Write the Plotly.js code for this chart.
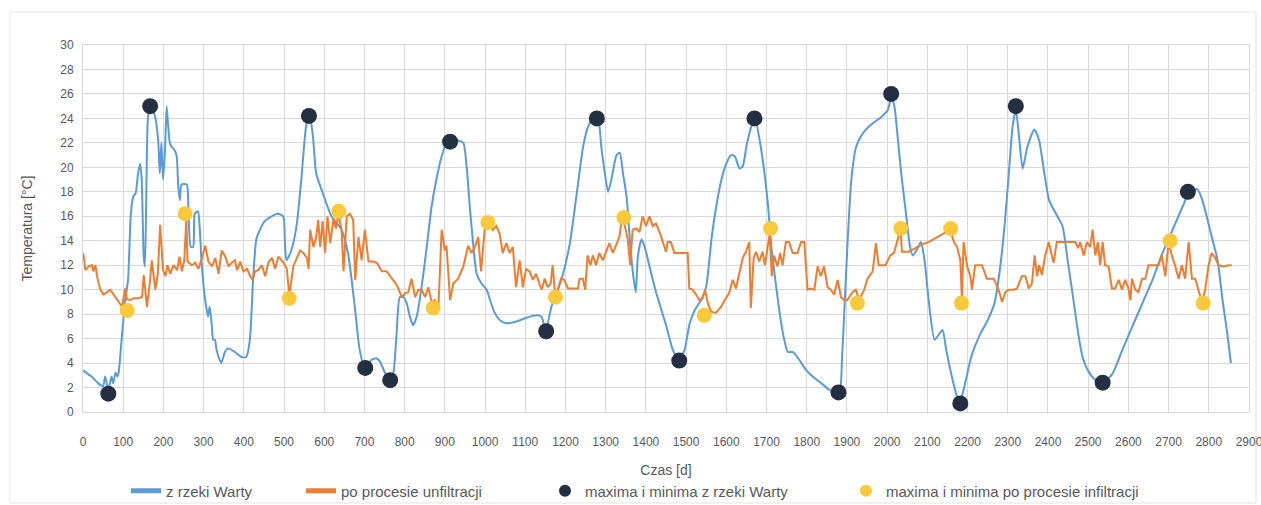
<!DOCTYPE html>
<html>
<head>
<meta charset="utf-8">
<script src="https://cdn.plot.ly/plotly-3.0.1.min.js"></script>
<style>
html,body{margin:0;padding:0;background:#ffffff;}
#chart{width:1261px;height:505px;}
</style>
</head>
<body>
<div id="chart"></div>
<script>
// ---- Data: temperatura wody z rzeki Warty ----
const riverDays = [0,21,38,50,55,63,71,75,81,86,89,96,104,112,119,125,131,137,142,146,151,154,158,162,169,179,187,191,195,199,204,208,212,216,220,228,233,237,241,245,258,262,268,274,278,286,290,295,303,311,315,320,324,328,332,340,344,353,361,378,394,406,415,423,431,440,452,469,485,498,502,506,518,531,543,556,564,572,580,593,618,643,659,676,688,701,717,730,739,751,764,772,780,788,797,805,813,821,830,842,855,867,879,892,904,917,933,946,954,962,971,979,991,1004,1012,1024,1037,1053,1078,1103,1128,1140,1151,1165,1178,1194,1211,1227,1244,1256,1269,1281,1289,1298,1306,1314,1327,1335,1343,1352,1360,1368,1375,1380,1389,1397,1409,1426,1451,1467,1482,1496,1509,1521,1538,1550,1563,1575,1588,1600,1612,1621,1633,1641,1650,1662,1672,1683,1695,1704,1712,1720,1728,1741,1753,1766,1782,1799,1815,1836,1857,1873,1882,1888,1894,1902,1911,1923,1940,1964,1985,2002,2010,2018,2027,2035,2047,2057,2064,2076,2084,2093,2105,2118,2130,2138,2147,2167,2180,2192,2209,2229,2250,2267,2279,2292,2304,2312,2320,2329,2337,2349,2366,2378,2391,2403,2420,2436,2449,2461,2474,2486,2503,2519,2537,2561,2585,2610,2635,2660,2685,2710,2735,2751,2772,2784,2797,2809,2822,2834,2846,2855];
const riverTemp = [3.4,2.9,2.35,2.1,2.9,1.8,2.9,2.35,3.2,2.9,3.3,5.9,8.9,10.8,16.2,17.6,17.9,19.5,20.3,19.0,12.7,11.9,19.0,24.2,25.0,24.2,22.2,19.5,22.0,19.0,21.4,25.0,23.3,22.0,21.7,21.4,20.9,18.4,17.3,18.6,18.6,16.8,13.5,13.5,16.2,16.4,15.2,12.2,9.4,7.8,8.6,7.25,5.9,5.9,5.1,4.25,4.0,4.9,5.2,4.9,4.5,4.5,5.9,10.8,14.1,14.9,15.6,16.0,16.2,16.0,14.1,12.4,13.2,15.2,19.0,23.6,24.2,22.5,19.5,18.2,16.0,14.9,13.0,8.6,5.1,3.6,4.25,4.4,4.1,3.2,2.6,3.2,6.4,9.4,9.4,8.9,7.8,7.1,7.8,10.2,13.5,16.8,19.0,20.9,22.0,22.2,22.2,22.0,20.1,16.8,13.5,11.3,10.5,10.0,9.2,8.1,7.5,7.25,7.4,7.7,7.9,7.8,6.7,8.6,9.7,11.3,13.8,17.6,21.7,23.3,24.0,23.9,21.7,19.5,18.0,19.0,21.0,21.2,19.5,17.6,14.1,11.3,9.8,12.7,14.1,13.5,11.9,9.7,7.0,5.07,4.25,5.07,7.25,8.3,9.2,10.25,14.1,16.8,19.0,20.3,21.0,20.9,19.9,20.1,21.7,23.3,23.9,22.2,19.5,16.8,13.5,11.3,9.2,6.4,4.9,4.9,4.25,3.4,2.9,2.35,1.8,1.5,1.66,4.5,8.6,14.1,19.0,21.7,22.8,23.6,24.1,24.7,25.8,25.0,22.2,19.5,16.2,13.5,12.8,13.4,13.9,12.4,8.6,5.9,6.4,6.7,5.07,2.07,0.7,2.07,4.5,6.2,7.5,8.9,11.3,15.2,20.1,23.3,24.7,22.2,19.9,21.7,23.1,22.2,19.5,17.3,16.2,15.2,12.4,9.7,6.7,4.5,3.2,2.6,2.35,3.16,5.07,7.0,8.9,10.8,13.0,14.9,16.8,17.9,18.2,17.3,15.7,14.1,12.4,9.2,6.4,4.0];

// ---- Data: po procesie infiltracji ----
const infilDays = [0,2,6,14,22,26,31,35,43,51,60,68,76,84,93,97,105,109,118,126,138,147,151,159,167,171,180,186,192,199,205,210,217,225,234,240,246,252,257,260,271,279,287,296,304,312,321,329,337,345,354,362,370,378,383,391,399,408,416,422,428,436,445,453,461,470,478,486,499,507,513,523,532,540,548,557,561,565,573,580,585,590,596,602,608,615,623,629,635,643,648,656,664,672,677,685,693,701,710,722,731,743,755,768,780,793,801,809,817,826,834,842,851,859,867,875,884,892,900,904,913,921,933,946,958,966,975,983,990,999,1011,1019,1028,1036,1044,1053,1061,1069,1077,1086,1094,1102,1111,1119,1127,1135,1141,1148,1156,1163,1168,1174,1181,1189,1197,1206,1218,1231,1235,1243,1249,1255,1262,1268,1276,1284,1293,1301,1309,1318,1326,1334,1340,1347,1355,1361,1367,1376,1384,1392,1400,1409,1417,1425,1434,1442,1450,1454,1462,1471,1504,1508,1516,1525,1533,1541,1547,1554,1562,1574,1587,1599,1607,1616,1624,1632,1641,1649,1657,1661,1668,1674,1682,1690,1696,1703,1708,1713,1719,1727,1734,1740,1748,1756,1765,1777,1786,1794,1802,1810,1819,1827,1835,1843,1852,1860,1868,1877,1885,1893,1901,1914,1922,1930,1943,1951,1964,1972,1979,1996,2008,2017,2025,2033,2037,2054,2070,2087,2104,2120,2137,2157,2166,2174,2182,2186,2190,2199,2207,2211,2219,2236,2248,2265,2277,2286,2294,2302,2315,2323,2335,2344,2352,2360,2367,2373,2378,2385,2393,2402,2408,2414,2422,2435,2447,2460,2468,2475,2480,2489,2497,2505,2511,2518,2524,2530,2536,2542,2551,2559,2567,2576,2584,2592,2600,2605,2609,2617,2625,2634,2642,2650,2663,2675,2683,2692,2700,2708,2716,2725,2733,2741,2750,2758,2766,2774,2783,2791,2799,2807,2816,2824,2836,2849,2857];
const infilTemp = [13.0,12.7,11.6,11.9,12.0,11.5,12.0,11.1,10.0,9.6,9.8,10.0,9.6,9.2,8.7,8.6,10.1,9.2,9.15,9.3,9.3,9.4,11.2,8.6,10.8,12.4,10.0,11.3,15.3,11.6,11.1,12.0,11.3,12.0,11.6,12.7,11.5,12.4,15.8,12.3,12.0,12.2,11.7,12.6,13.6,12.3,11.9,12.6,11.3,13.2,12.7,11.9,12.2,12.4,11.6,12.3,11.5,11.7,11.1,10.8,11.5,11.6,12.0,11.1,12.2,12.6,11.7,12.7,12.2,11.7,9.5,11.9,12.6,13.2,13.0,12.6,11.7,14.9,13.5,14.3,15.7,13.5,15.6,13.0,16.0,13.8,15.8,15.0,16.2,14.9,11.5,16.0,16.2,15.7,10.8,14.3,12.4,14.9,12.3,12.3,12.2,11.5,11.5,10.9,10.4,9.4,9.7,9.8,10.9,9.4,10.0,10.0,9.4,10.2,9.0,9.15,8.6,14.9,13.2,13.6,9.15,10.5,10.9,11.9,13.6,13.0,13.5,14.3,11.5,14.9,15.4,14.9,15.2,14.6,13.0,13.8,13.0,13.5,10.2,12.4,10.2,11.7,11.5,10.8,11.3,10.5,10.0,10.9,10.2,10.5,12.0,9.7,10.0,10.9,10.8,10.1,10.1,10.1,10.9,10.9,10.0,12.8,12.0,12.8,12.0,13.0,12.4,13.1,13.8,13.0,13.6,14.3,15.7,15.3,14.1,12.0,14.9,15.0,14.7,16.0,15.2,16.0,15.2,15.4,14.7,13.8,13.1,13.9,13.9,13.0,13.0,10.1,10.0,9.6,9.15,9.3,10.0,8.9,8.2,8.1,8.6,9.3,9.7,10.8,10.1,11.3,12.6,13.1,13.9,8.5,12.6,13.1,12.3,13.1,12.0,13.5,14.6,11.1,12.8,11.9,13.0,12.0,13.9,13.9,13.0,13.0,13.9,13.9,10.0,10.1,10.0,11.9,11.1,11.9,10.2,10.0,9.6,10.8,9.4,9.15,9.15,9.8,10.0,9.15,10.0,10.9,11.5,13.8,12.0,12.0,12.8,13.0,13.9,14.9,13.1,13.1,13.4,13.7,13.9,14.2,14.5,14.9,13.9,13.5,12.4,9.15,13.9,11.9,11.1,10.0,12.0,12.0,10.9,10.9,10.0,9.0,9.8,10.0,10.0,10.1,11.1,11.1,10.1,10.5,12.8,11.1,12.0,11.2,12.8,13.9,13.0,12.2,13.9,13.9,13.9,13.9,13.9,13.4,13.9,12.8,13.9,13.5,14.9,12.8,13.9,12.0,13.9,12.0,11.9,10.1,10.1,10.8,10.0,10.8,10.1,9.15,10.9,10.0,9.8,10.9,10.9,12.0,12.0,12.0,12.8,11.1,13.9,12.8,12.0,10.9,12.0,10.9,13.9,10.9,10.9,10.0,9.0,10.0,11.9,13.0,12.6,12.0,11.9,12.0,12.0];

// ---- Data: maxima i minima ----
const riverExtDays = [63,167,562,702,764,913,1152,1278,1483,1670,1879,2010,2182,2320,2536,2748];
const riverExtTemp = [1.5,25.0,24.2,3.6,2.6,22.1,6.6,24.0,4.2,24.0,1.6,26.0,0.7,25.0,2.4,18.0];
const infilExtDays = [110,254,513,636,871,1007,1175,1345,1545,1710,1926,2034,2158,2185,2704,2786];
const infilExtTemp = [8.3,16.2,9.3,16.4,8.5,15.5,9.4,15.9,7.9,15.0,8.9,15.0,15.0,8.9,14.0,8.9];

// ---- Labels ----
const seriesNames = ['z rzeki Warty','po procesie unfiltracji','maxima i minima z rzeki Warty','maxima i minima po procesie infiltracji'];
const xTitle = 'Czas [d]';
const yTitle = 'Temperatura [°C]';

const FONT = 'Liberation Sans, Arial, sans-serif';
const TXT = '#595959';
const GRID = '#D9D9D9';

const traces = [
  {x: riverDays, y: riverTemp, type:'scatter', mode:'lines', name: seriesNames[0],
   line:{color:'#5B9BD5', width:2, shape:'spline', smoothing:0.6}, legend:'legend'},
  {x: infilDays, y: infilTemp, type:'scatter', mode:'lines', name: seriesNames[1],
   line:{color:'#ED7D31', width:2}, legend:'legend2'},
  {x: riverExtDays, y: riverExtTemp, type:'scatter', mode:'markers', name: seriesNames[2],
   marker:{color:'#243042', size:16}, legend:'legend3'},
  {x: infilExtDays, y: infilExtTemp, type:'scatter', mode:'markers', name: seriesNames[3],
   marker:{color:'#F9C93C', size:15}, legend:'legend4'}
];

function legendAt(px){
  return {x:(px-83)/1166, y:(412-491)/367, xanchor:'left', yanchor:'middle',
          orientation:'h', bgcolor:'rgba(0,0,0,0)', itemsizing:'constant',
          font:{family:FONT, size:15, color:TXT}};
}

const layout = {
  width:1261, height:505,
  margin:{l:83, r:12, t:45, b:93, autoexpand:false},
  paper_bgcolor:'#ffffff', plot_bgcolor:'#ffffff',
  font:{family:FONT, color:TXT},
  showlegend:true,
  legend: legendAt(126),
  legend2: legendAt(301),
  legend3: legendAt(545),
  legend4: legendAt(846),
  xaxis:{
    range:[0,2900], tick0:0, dtick:100, showgrid:true, gridcolor:GRID, gridwidth:1,
    zeroline:false, showline:true, linecolor:GRID, mirror:true, automargin:false,
    ticks:'outside', ticklen:19, tickcolor:'rgba(0,0,0,0)', ticklabeloverflow:'allow',
    tickfont:{family:FONT, size:12, color:TXT},
    title:{text:xTitle, font:{family:FONT, size:14, color:TXT}, standoff:16}
  },
  yaxis:{
    range:[0,30], tick0:0, dtick:2, showgrid:true, gridcolor:GRID, gridwidth:1,
    zeroline:false, showline:true, linecolor:GRID, mirror:true, automargin:false,
    ticks:'outside', ticklen:6, tickcolor:'rgba(0,0,0,0)',
    tickfont:{family:FONT, size:12, color:TXT},
    title:{text:yTitle, font:{family:FONT, size:14, color:TXT}, standoff:24}
  },
  shapes:[{type:'rect', xref:'paper', yref:'paper', layer:'below',
    x0:(10-83)/1166, x1:(1256-83)/1166, y0:(412-503)/367, y1:(412-12)/367,
    line:{color:'#E3E3E3', width:1}, fillcolor:'rgba(0,0,0,0)'}]
};

Plotly.newPlot('chart', traces, layout, {displayModeBar:false, staticPlot:true});
</script>
</body>
</html>
